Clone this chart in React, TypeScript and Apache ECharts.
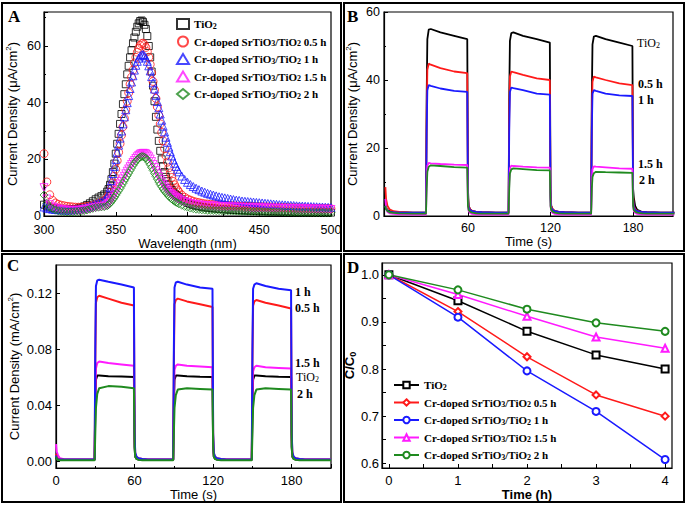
import React, { useEffect, useRef } from 'react';
import * as echarts from 'echarts';

const serif = '"Liberation Serif", "Times New Roman", serif';
const sans = '"Liberation Sans", Arial, sans-serif';

// ---------- Panel A: photocurrent action spectra ----------
const wl = [
  300, 302, 304, 306, 308, 310, 312, 314, 316, 318, 320, 322, 324, 326, 328, 330, 332, 334, 336, 338, 340, 342,
  344, 345, 346, 347, 348, 349, 350, 351, 352, 353, 354, 355, 356, 357, 358, 359, 360, 361, 362, 363, 364, 365, 366, 367,
  368, 369, 370, 371, 372, 373, 374, 375, 376, 377, 378, 379, 380, 381, 382, 383, 384, 385, 386, 387, 388, 389, 390, 391,
  392, 393, 394,
  396, 398, 400, 402, 404, 406, 408, 410, 412, 414, 416, 418, 420, 422, 424, 426, 428, 430, 432, 434, 436, 438, 440, 442,
  444, 446, 448, 450, 452, 454, 456, 458, 460, 462, 464, 466, 468, 470, 472, 474, 476, 478, 480, 482, 484, 486, 488, 490,
  492, 494, 496, 498, 500,
];
const aTiO2 = [
  4.0, 3.4, 3.0, 2.8, 2.7, 2.6, 2.5, 2.5, 2.4, 2.4, 2.4, 2.5, 2.7, 3.0, 3.4, 3.9, 4.5, 5.2, 5.9, 6.5, 7.0, 7.6,
  8.6, 9.5, 11, 13, 15.5, 18.5, 22, 25.5, 29, 32.5, 36, 39.5, 43, 46.5, 50, 53, 56, 58.5, 61, 63, 65, 66.8, 68, 68.8,
  69, 68.5, 67.5, 66, 63.5, 60, 56, 51, 46, 40.5, 35, 30.5, 26.5, 23, 20, 17.5, 15.5, 13.8, 12.3, 11, 10, 9.2, 8.5, 7.9,
  7.4, 7, 6.6,
  5.9, 5.2, 4.6, 4.2, 3.9, 3.6, 3.4, 3.2, 3.0, 2.9, 2.8, 2.7, 2.6, 2.5, 2.4, 2.3, 2.3, 2.2, 2.1, 2.1, 2.0, 2.0, 1.9, 1.9,
  1.8, 1.8, 1.8, 1.7, 1.7, 1.7, 1.6, 1.6, 1.6, 1.6, 1.5, 1.5, 1.5, 1.5, 1.5, 1.4, 1.4, 1.4, 1.4, 1.4, 1.4, 1.3, 1.3, 1.3,
  1.3, 1.3, 1.3, 1.3, 1.2,
];
const a05 = [
  22, 12, 7.5, 5.5, 4.6, 4.1, 3.8, 3.6, 3.4, 3.3, 3.2, 3.1, 3.1, 3.1, 3.2, 3.3, 3.5, 3.7, 4.0, 4.4, 4.9, 5.5,
  6.4, 7.2, 8.3, 9.8, 11.7, 14, 16.5, 19.5, 22.5, 25.5, 28.5, 31.5, 34.5, 37.5, 40.5, 43.5, 46.5, 49, 51.5, 54, 56, 57.8,
  59.2, 60.2, 60.8, 61, 60.5, 59.5, 58, 56, 53.5, 50.5, 47.5, 44.5, 41.5, 38.5, 35.5, 32.5, 29.5, 26.5, 23.8, 21.2, 19,
  17, 15.2, 13.6, 12.2, 11, 10, 9.2, 8.5,
  7.4, 6.6, 6.0, 5.6, 5.2, 4.9, 4.7, 4.5, 4.3, 4.2, 4.1, 4.0, 3.9, 3.85, 3.8, 3.75, 3.7, 3.65, 3.6, 3.55, 3.5, 3.5, 3.45,
  3.4, 3.4, 3.35, 3.3, 3.3, 3.25, 3.2, 3.2, 3.15, 3.1, 3.1, 3.05, 3.0, 3.0, 2.95, 2.9, 2.9, 2.85, 2.85, 2.8, 2.8, 2.75,
  2.75, 2.7, 2.7, 2.65, 2.65, 2.6, 2.6, 2.55,
];
const a1 = [
  3.2, 2.8, 2.6, 2.4, 2.3, 2.2, 2.2, 2.1, 2.1, 2.1, 2.2, 2.3, 2.4, 2.6, 2.8, 3.1, 3.4, 3.8, 4.2, 4.6, 5.0, 5.5,
  6.5, 8, 10, 12.5, 15, 17.5, 20, 22.5, 25, 27.5, 30, 32.5, 35, 37.5, 40, 42.5, 45, 47.3, 49.5, 51.5, 53.2, 54.6, 55.7,
  56.5, 56.9, 57, 56.6, 55.8, 54.6, 53, 51.2, 49.2, 47, 44.8, 42.6, 40.4, 38.2, 36, 33.8, 31.7, 29.7, 27.8, 26, 24.3,
  22.7, 21.2, 19.8, 18.6, 17.5, 16.5, 15.6,
  14.1, 12.9, 11.9, 11.1, 10.4, 9.8, 9.3, 8.8, 8.4, 8.0, 7.7, 7.4, 7.1, 6.8, 6.6, 6.4, 6.2, 6.0, 5.8, 5.6, 5.5, 5.3, 5.2,
  5.1, 5.0, 4.9, 4.8, 4.7, 4.6, 4.5, 4.4, 4.3, 4.2, 4.1, 4.0, 3.95, 3.9, 3.8, 3.75, 3.7, 3.6, 3.55, 3.5, 3.45, 3.4, 3.35,
  3.3, 3.25, 3.2, 3.15, 3.1, 3.05, 3.0,
];
const a15 = [
  10, 6, 4, 3.2, 2.8, 2.5, 2.3, 2.2, 2.1, 2.0, 2.0, 2.0, 2.0, 2.1, 2.2, 2.4, 2.6, 2.8, 3.0, 3.2, 3.3, 3.5,
  3.9, 4.4, 5.0, 5.7, 6.5, 7.4, 8.3, 9.3, 10.3, 11.3, 12.2, 13.1, 14.0, 14.9, 15.8, 16.6, 17.4, 18.2, 18.9, 19.6, 20.3,
  20.9, 21.4, 21.8, 22.0, 22.1, 22.1, 21.9, 21.5, 20.9, 20.1, 19.2, 18.2, 17.1, 16.0, 14.9, 13.9, 12.9, 12.0, 11.1, 10.3,
  9.6, 9.0, 8.5, 8.0, 7.6, 7.2, 6.8, 6.5, 6.2, 5.9,
  5.4, 5.0, 4.7, 4.4, 4.2, 4.0, 3.9, 3.8, 3.7, 3.6, 3.55, 3.5, 3.45, 3.4, 3.35, 3.3, 3.25, 3.2, 3.15, 3.1, 3.1, 3.05, 3.0,
  3.0, 2.95, 2.9, 2.9, 2.85, 2.85, 2.8, 2.8, 2.75, 2.75, 2.7, 2.7, 2.7, 2.65, 2.65, 2.6, 2.6, 2.55, 2.55, 2.5, 2.5, 2.5,
  2.45, 2.45, 2.4, 2.4, 2.4, 2.35, 2.35, 2.3,
];
const a2 = [
  7.4, 4.5, 3.2, 2.5, 2.1, 1.8, 1.6, 1.5, 1.4, 1.4, 1.4, 1.5, 1.6, 1.7, 1.9, 2.1, 2.4, 2.7, 3.0, 3.1, 3.2, 3.3,
  3.6, 4.0, 4.5, 5.1, 5.8, 6.5, 7.3, 8.1, 8.9, 9.7, 10.6, 11.5, 12.4, 13.3, 14.2, 15.1, 16.0, 16.9, 17.8, 18.6, 19.3,
  19.9, 20.4, 20.8, 21.0, 21.0, 20.8, 20.4, 19.8, 19.0, 18.1, 17.1, 16.1, 15.0, 14.0, 13.0, 12.0, 11.1, 10.3, 9.5, 8.8,
  8.2, 7.6, 7.0, 6.5, 6.0, 5.6, 5.2, 4.9, 4.6, 4.3,
  3.8, 3.4, 3.1, 2.8, 2.6, 2.4, 2.3, 2.2, 2.1, 2.0, 2.0, 1.95, 1.9, 1.9, 1.85, 1.85, 1.8, 1.8, 1.75, 1.75, 1.7, 1.7, 1.7,
  1.65, 1.65, 1.6, 1.6, 1.6, 1.55, 1.55, 1.5, 1.5, 1.5, 1.45, 1.45, 1.45, 1.4, 1.4, 1.4, 1.35, 1.35, 1.35, 1.3, 1.3, 1.3,
  1.3, 1.25, 1.25, 1.25, 1.25, 1.2, 1.2, 1.2,
];

// ---------- Panels B and C: on/off transient photocurrent ----------
const tt = [
  0, 0.5, 1.5, 3, 6, 10, 20, 29.5,
  30, 30.5, 31.5, 33, 40, 50, 59.5,
  60, 60.5, 61.5, 63, 66, 70, 80, 89.5,
  90, 90.5, 91.5, 93, 100, 110, 119.5,
  120, 120.5, 121.5, 123, 126, 130, 140, 149.5,
  150, 150.5, 151.5, 153, 160, 170, 179.5,
  180, 180.5, 181.5, 183, 186, 190, 200, 210,
];
const bTiO2 = [
  4, 2.5, 1.8, 1.4, 1.2, 1.1, 1.0, 1.0,
  35, 52, 54.8, 55, 54, 53, 52,
  8, 3, 2, 1.5, 1.2, 1.1, 1.0, 1.0,
  35, 51.5, 53.8, 54, 53, 52, 51,
  8, 3, 2, 1.5, 1.2, 1.1, 1.0, 1.0,
  35, 50.5, 52.8, 53, 52, 51, 50,
  8, 5.5, 3, 1.8, 1.3, 1.1, 1.0, 1.0,
];
const b05 = [
  8.5, 5, 3, 2, 1.4, 1.2, 1.0, 1.0,
  30, 43, 44.8, 44.5, 43.5, 42.5, 42,
  6, 3, 2, 1.5, 1.2, 1.1, 1.0, 1.0,
  30, 41, 42.5, 42.3, 41.5, 40.5, 40,
  6, 3, 2, 1.5, 1.2, 1.1, 1.0, 1.0,
  30, 39.5, 41, 40.8, 40, 39, 38.5,
  6, 3, 2, 1.5, 1.2, 1.1, 1.0, 1.0,
];
const b1 = [
  3, 2, 1.5, 1.2, 1.1, 1.0, 1.0, 1.0,
  25, 37, 38.5, 38.3, 37.5, 36.8, 36.5,
  5, 2.5, 1.8, 1.4, 1.2, 1.1, 1.0, 1.0,
  25, 36.5, 37.8, 37.6, 37, 36, 35.7,
  5, 2.5, 1.8, 1.4, 1.2, 1.1, 1.0, 1.0,
  25, 36, 37, 36.8, 36, 35.5, 35.3,
  5, 2.5, 1.8, 1.4, 1.2, 1.1, 1.0, 1.0,
];
const b15 = [
  5, 2.5, 1.2, 0.8, 0.6, 0.5, 0.4, 0.4,
  10, 14.8, 15.6, 15.5, 15.3, 15.1, 15,
  3, 1.5, 0.9, 0.6, 0.5, 0.4, 0.4, 0.4,
  10, 14, 14.8, 14.7, 14.5, 14.3, 14.2,
  3, 1.5, 0.9, 0.6, 0.5, 0.4, 0.4, 0.4,
  10, 13.8, 14.6, 14.5, 14.3, 14, 13.9,
  3, 1.5, 0.9, 0.6, 0.5, 0.4, 0.4, 0.4,
];
const b2 = [
  3, 2, 1.5, 1.1, 0.9, 0.8, 0.7, 0.7,
  8, 13, 14.5, 14.9, 14.7, 14.4, 14.2,
  3, 1.8, 1.3, 1.0, 0.8, 0.7, 0.7, 0.7,
  8, 12.5, 13.7, 14, 13.8, 13.5, 13.4,
  3, 1.8, 1.3, 1.0, 0.8, 0.7, 0.7, 0.7,
  8, 11.5, 12.6, 13, 12.9, 12.8, 12.7,
  3, 1.8, 1.3, 1.0, 0.8, 0.7, 0.7, 0.7,
];
const cTiO2 = [
  0.003, 0.0015, 0.001, 0.0008, 0.0008, 0.0008, 0.0008, 0.0008,
  0.04, 0.058, 0.061, 0.061, 0.0605, 0.0603, 0.06,
  0.01, 0.003, 0.0015, 0.001, 0.0008, 0.0008, 0.0008, 0.0008,
  0.04, 0.058, 0.061, 0.061, 0.0605, 0.0602, 0.06,
  0.01, 0.003, 0.0015, 0.001, 0.0008, 0.0008, 0.0008, 0.0008,
  0.04, 0.058, 0.061, 0.061, 0.0605, 0.0602, 0.06,
  0.01, 0.003, 0.0015, 0.001, 0.0008, 0.0008, 0.0008, 0.0008,
];
const c05 = [
  0.005, 0.003, 0.0015, 0.0012, 0.001, 0.001, 0.001, 0.001,
  0.07, 0.113, 0.117, 0.118, 0.116, 0.113, 0.111,
  0.018, 0.005, 0.003, 0.002, 0.0015, 0.001, 0.001, 0.001,
  0.07, 0.112, 0.115, 0.116, 0.114, 0.112, 0.11,
  0.018, 0.005, 0.003, 0.002, 0.0015, 0.001, 0.001, 0.001,
  0.07, 0.111, 0.114, 0.115, 0.113, 0.111, 0.109,
  0.018, 0.005, 0.003, 0.002, 0.0015, 0.001, 0.001, 0.001,
];
const c1 = [
  0.004, 0.002, 0.0013, 0.0011, 0.001, 0.001, 0.001, 0.001,
  0.08, 0.125, 0.129, 0.1295, 0.128, 0.126, 0.124,
  0.02, 0.006, 0.003, 0.002, 0.0015, 0.001, 0.001, 0.001,
  0.08, 0.124, 0.1275, 0.128, 0.126, 0.124, 0.123,
  0.02, 0.006, 0.003, 0.002, 0.0015, 0.001, 0.001, 0.001,
  0.08, 0.123, 0.126, 0.127, 0.125, 0.123, 0.122,
  0.02, 0.006, 0.003, 0.002, 0.0015, 0.001, 0.001, 0.001,
];
const c15 = [
  0.012, 0.007, 0.004, 0.002, 0.0012, 0.001, 0.001, 0.001,
  0.045, 0.066, 0.07, 0.071, 0.07, 0.069, 0.068,
  0.012, 0.004, 0.002, 0.0015, 0.001, 0.001, 0.001, 0.001,
  0.045, 0.065, 0.068, 0.069, 0.068, 0.0675, 0.067,
  0.012, 0.004, 0.002, 0.0015, 0.001, 0.001, 0.001, 0.001,
  0.045, 0.064, 0.067, 0.068, 0.067, 0.0665, 0.066,
  0.012, 0.004, 0.002, 0.0015, 0.001, 0.001, 0.001, 0.001,
];
const c2 = [
  0.003, 0.0015, 0.0008, 0.0005, 0.0005, 0.0005, 0.0005, 0.0005,
  0.02, 0.038, 0.048, 0.052, 0.0535, 0.053, 0.052,
  0.01, 0.003, 0.0015, 0.0008, 0.0005, 0.0005, 0.0005, 0.0005,
  0.02, 0.038, 0.047, 0.051, 0.052, 0.0515, 0.051,
  0.01, 0.003, 0.0015, 0.0008, 0.0005, 0.0005, 0.0005, 0.0005,
  0.02, 0.038, 0.047, 0.051, 0.052, 0.0515, 0.051,
  0.01, 0.003, 0.0015, 0.0008, 0.0005, 0.0005, 0.0005, 0.0005,
];

// ---------- Panel D: degradation ----------
const dTime = [0, 1, 2, 3, 4];
const dTiO2 = [1.0, 0.945, 0.88, 0.83, 0.8];
const d05 = [1.0, 0.922, 0.826, 0.745, 0.7];
const d1 = [1.0, 0.91, 0.796, 0.71, 0.608];
const d15 = [1.0, 0.958, 0.912, 0.868, 0.844];
const d2 = [1.0, 0.968, 0.927, 0.898, 0.88];

const colors = ['#000000', '#ff1a1a', '#1a1aff', '#ff1aff', '#1f8a1f'];
const legendLabels = [
  'TiO{sub|2}',
  'Cr-doped SrTiO{sub|3}/TiO{sub|2} 0.5 h',
  'Cr-doped SrTiO{sub|3}/TiO{sub|2} 1 h',
  'Cr-doped SrTiO{sub|3}/TiO{sub|2} 1.5 h',
  'Cr-doped SrTiO{sub|3}/TiO{sub|2} 2 h',
];
const aSymbols = ['rect', 'circle', 'triangle', 'triangle', 'diamond'];
const aRotate = [0, 0, 0, 180, 0];
const aSize = [7, 8, 8, 8, 8];
const dSymbols = ['emptyRect', 'emptyDiamond', 'emptyCircle', 'emptyTriangle', 'emptyCircle'];

const pair = (xs: number[], ys: number[]) => xs.map((x, i) => [x, ys[i]]);

const axisBase = {
  axisLine: { onZero: false, lineStyle: { color: '#000', width: 1.2 } },
  axisTick: { inside: true, length: 4, lineStyle: { color: '#000', width: 1 } },
  splitLine: { show: false },
};
const lbl = (size: number, margin: number) => ({ color: '#000', fontFamily: sans, fontSize: size, margin });
const nameStyle = (bold = false) => ({
  color: '#000',
  fontFamily: sans,
  fontSize: 13,
  fontWeight: bold ? 'bold' : 'normal',
  rich: {
    sup: { fontFamily: sans, fontSize: 8, verticalAlign: 'top', lineHeight: 16, padding: [0, 0, 8, 0] },
    sub: { fontFamily: sans, fontSize: 9, fontWeight: 'bold', verticalAlign: 'bottom', lineHeight: 16, padding: [8, 0, 0, 0] },
  },
});
const legendRich = {
  sub: {
    fontFamily: serif, fontWeight: 'bold', fontSize: 8, color: '#000',
    verticalAlign: 'bottom', lineHeight: 8, padding: [6, 0, 0, 0],
  },
};
const noteRich = {
  sub: { fontFamily: serif, fontSize: 8, fill: '#000', verticalAlign: 'bottom', lineHeight: 8, padding: [6, 0, 0, 0] },
};

export default function App() {
  const ref = useRef<HTMLDivElement>(null);
  useEffect(() => {
    const chart = echarts.init(ref.current!, null, { renderer: 'svg' });
    const names = ['TiO2', '0.5 h', '1 h', '1.5 h', '2 h'];
    const aData = [aTiO2, a05, a1, a15, a2];
    const bData = [bTiO2, b05, b1, b15, b2];
    const cData = [cTiO2, c15, c05, c1, c2];
    const cColorIdx = [0, 3, 1, 2, 4];
    const dData = [dTiO2, d05, d1, d15, d2];
    const labelMap: Record<string, string> = {};
    names.forEach((n, i) => {
      labelMap['A ' + n] = legendLabels[i];
      labelMap['D ' + n] = legendLabels[i];
    });

    const series: any[] = [];
    aData.forEach((ys, i) => {
      series.push({
        name: 'A ' + names[i],
        type: 'scatter',
        xAxisIndex: 0,
        yAxisIndex: 0,
        symbol: aSymbols[i],
        symbolRotate: aRotate[i],
        symbolSize: aSize[i],
        itemStyle: { color: 'rgba(255,255,255,0)', borderColor: colors[i], borderWidth: 1 },
        data: pair(wl, ys),
      });
    });
    bData.forEach((ys, i) => {
      series.push({
        name: 'B ' + names[i],
        type: 'line',
        xAxisIndex: 1,
        yAxisIndex: 1,
        showSymbol: false,
        lineStyle: { color: colors[i], width: 1.8 },
        data: pair(tt, ys),
      });
    });
    cData.forEach((ys, i) => {
      series.push({
        name: 'C ' + i,
        type: 'line',
        xAxisIndex: 2,
        yAxisIndex: 2,
        showSymbol: false,
        lineStyle: { color: colors[cColorIdx[i]], width: 2 },
        data: pair(tt, ys),
      });
    });
    dData.forEach((ys, i) => {
      series.push({
        name: 'D ' + names[i],
        type: 'line',
        xAxisIndex: 3,
        yAxisIndex: 3,
        symbol: dSymbols[i],
        symbolSize: 7,
        itemStyle: { color: colors[i] },
        lineStyle: { color: colors[i], width: 1.5 },
        data: pair(dTime, ys),
      });
    });

    const gridBase = { show: true, borderColor: '#000', borderWidth: 1.2, backgroundColor: 'transparent' };
    const frame = (x: number, y: number, w: number, h: number) => ({
      type: 'rect',
      shape: { x, y, width: w, height: h },
      style: { fill: 'none', stroke: '#000', lineWidth: 2 },
      silent: true,
    });
    const letter = (t: string, x: number, y: number) => ({
      type: 'text',
      x,
      y,
      style: { text: t, font: 'bold 17px "Liberation Serif"', fill: '#000', align: 'left', verticalAlign: 'top' },
    });
    const note = (t: string, x: number, y: number, bold: boolean) => ({
      type: 'text',
      x,
      y,
      style: {
        text: t,
        fontFamily: serif,
        fontSize: 12,
        fontWeight: bold ? 'bold' : 'normal',
        fill: '#000',
        align: 'left',
        verticalAlign: 'middle',
        rich: noteRich,
      },
    });

    chart.setOption({
      animation: false,
      backgroundColor: '#fff',
      grid: [
        { ...gridBase, left: 44, top: 12, width: 287, height: 204 },
        { ...gridBase, left: 384, top: 12, width: 289, height: 204 },
        { ...gridBase, left: 56, top: 265, width: 275, height: 203 },
        { ...gridBase, left: 382, top: 263, width: 290, height: 205 },
      ],
      xAxis: [
        {
          ...axisBase, gridIndex: 0, type: 'value', min: 300, max: 500, interval: 50,
          minorTick: { show: true, splitNumber: 2, length: 2, lineStyle: { color: '#000' } },
          axisLabel: lbl(12.5, 7),
          name: 'Wavelength (nm)', nameLocation: 'middle', nameGap: 16, nameTextStyle: nameStyle(),
        },
        {
          ...axisBase, gridIndex: 1, type: 'value', min: -1, max: 209,
          axisTick: { ...axisBase.axisTick, customValues: [60, 120, 180] },
          axisLabel: { ...lbl(12.5, 5), customValues: [60, 120, 180] },
          name: 'Time (s)', nameLocation: 'middle', nameGap: 17, nameTextStyle: nameStyle(),
        },
        {
          ...axisBase, gridIndex: 2, type: 'value', min: 0, max: 210, interval: 60,
          minorTick: { show: true, splitNumber: 2, length: 2, lineStyle: { color: '#000' } },
          axisLabel: { ...lbl(13, 6), showMaxLabel: false },
          name: 'Time (s)', nameLocation: 'middle', nameGap: 20, nameTextStyle: nameStyle(),
        },
        {
          ...axisBase, gridIndex: 3, type: 'value', min: -0.1, max: 4.1,
          axisTick: { ...axisBase.axisTick, customValues: [0, 0.5, 1, 1.5, 2, 2.5, 3, 3.5, 4] },
          axisLabel: { ...lbl(13, 6), customValues: [0, 1, 2, 3, 4] },
          name: 'Time (h)', nameLocation: 'middle', nameGap: 15, nameTextStyle: nameStyle(true),
        },
      ],
      yAxis: [
        {
          ...axisBase, gridIndex: 0, type: 'value', min: 0, max: 72, interval: 20,
          minorTick: { show: true, splitNumber: 2, length: 2, lineStyle: { color: '#000' } },
          axisLabel: { ...lbl(12.5, 3), showMaxLabel: false },
          name: 'Current Density (μA/cm{sup|2})', nameLocation: 'middle', nameGap: 24, nameTextStyle: nameStyle(),
        },
        {
          ...axisBase, gridIndex: 1, type: 'value', min: 0, max: 60, interval: 20,
          minorTick: { show: true, splitNumber: 2, length: 2, lineStyle: { color: '#000' } },
          axisLabel: lbl(12.5, 4),
          name: 'Current Density (μA/cm{sup|2})', nameLocation: 'middle', nameGap: 24, nameTextStyle: nameStyle(),
        },
        {
          ...axisBase, gridIndex: 2, type: 'value', min: -0.005, max: 0.14,
          axisTick: { ...axisBase.axisTick, customValues: [0, 0.04, 0.08, 0.12] },
          axisLabel: { ...lbl(13, 4), customValues: [0, 0.04, 0.08, 0.12], formatter: (v: number) => v.toFixed(2) },
          name: 'Current Density (mA/cm{sup|2})', nameLocation: 'middle', nameGap: 33, nameTextStyle: nameStyle(),
        },
        {
          ...axisBase, gridIndex: 3, type: 'value', min: 0.59, max: 1.025,
          axisTick: { ...axisBase.axisTick, customValues: [0.6, 0.65, 0.7, 0.75, 0.8, 0.85, 0.9, 0.95, 1.0] },
          axisLabel: { ...lbl(13, 3), customValues: [0.6, 0.7, 0.8, 0.9, 1.0], formatter: (v: number) => v.toFixed(1) },
          name: 'C/C{sub|0}', nameLocation: 'middle', nameGap: 25, nameTextStyle: nameStyle(true),
        },
      ],
      legend: [
        {
          left: 176, top: 16, padding: 0, orient: 'vertical', itemWidth: 12, itemHeight: 10, itemGap: 3.5,
          data: names.map((n) => 'A ' + n),
          formatter: (n: string) => labelMap[n],
          textStyle: { fontFamily: serif, fontWeight: 'bold', fontSize: 11, color: '#000', lineHeight: 12, rich: legendRich },
        },
        {
          left: 393, top: 377, padding: 0, orient: 'vertical', itemWidth: 25, itemHeight: 8, itemGap: 3.5,
          data: names.map((n) => 'D ' + n),
          formatter: (n: string) => labelMap[n],
          textStyle: { fontFamily: serif, fontWeight: 'bold', fontSize: 11, color: '#000', lineHeight: 12, rich: legendRich },
        },
      ],
      graphic: [
        frame(2, 3, 339, 248),
        frame(344, 3, 340, 248),
        frame(2, 254, 339, 248),
        frame(344, 254, 340, 248),
        letter('A', 8, 8),
        letter('B', 347, 8),
        letter('C', 7, 257),
        letter('D', 347, 259),
        note('TiO{sub|2}', 637, 43, false),
        note('0.5 h', 638, 84, true),
        note('1 h', 638, 100, true),
        note('1.5 h', 638, 164, true),
        note('2 h', 639, 180, true),
        note('1 h', 295, 292, true),
        note('0.5 h', 295, 308, true),
        note('1.5 h', 295, 363, true),
        note('TiO{sub|2}', 296, 377, false),
        note('2 h', 297, 394, true),
      ],
      series,
    });
    return () => chart.dispose();
  }, []);
  return (
    <div
      ref={ref}
      style={{ position: 'fixed', left: 0, top: 0, width: 685, height: 506, background: '#fff' }}
    />
  );
}
